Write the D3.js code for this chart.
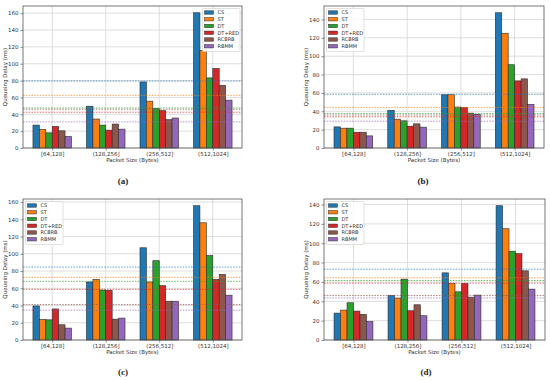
<!DOCTYPE html>
<html>
<head>
<meta charset="utf-8">
<script src="https://cdn.jsdelivr.net/npm/d3@7"></script>
<style>
  body { margin: 0; background: #fff; }
  svg { display: block; font-family: "DejaVu Sans", sans-serif; }
</style>
</head>
<body>
<div id="chart"></div>
<script>
const categories = ["[64,128]", "(128,256]", "(256,512]", "(512,1024]"];
const series = ["CS", "ST", "DT", "DT+RED", "RCBRB", "RBMM"];
const colors = ["#1f77b4", "#ff7f0e", "#2ca02c", "#d62728", "#8c564b", "#9467bd"];

// rows follow series order, columns follow categories
const delayA = [
  [27.2, 49.6, 78.4, 160.5],
  [22.0, 34.4, 55.6, 115.6],
  [18.0, 27.2, 46.8, 83.2],
  [25.6, 21.2, 44.4, 94.4],
  [20.4, 28.4, 33.6, 74.4],
  [13.6, 22.4, 35.6, 56.8]
];
const avgA = [79.5, 62.5, 47.5, 42.5, 46, 31];

const delayB = [
  [23.0, 41.0, 58.0, 147.3],
  [21.6, 31.4, 58.0, 125.0],
  [21.6, 29.6, 44.6, 90.7],
  [17.2, 23.8, 44.2, 73.1],
  [17.2, 26.3, 38.0, 75.3],
  [13.2, 22.7, 36.6, 47.5]
];
const avgB = [58.5, 44.2, 37.5, 34, 36, 29.2];

const delayC = [
  [39.5, 67.3, 107.0, 155.8],
  [24.0, 70.4, 67.3, 136.0],
  [23.4, 58.0, 92.0, 98.0],
  [36.0, 57.7, 63.0, 70.4],
  [17.7, 24.2, 45.0, 76.0],
  [13.8, 25.4, 45.0, 52.0]
];
const avgC = [84.6, 72.7, 68, 58.8, 41.2, 34.6];

const delayD = [
  [27.8, 46.0, 69.4, 138.8],
  [30.9, 43.3, 58.4, 115.0],
  [38.5, 62.9, 49.8, 91.8],
  [29.9, 30.2, 58.4, 89.3],
  [26.5, 36.4, 44.3, 71.5],
  [19.2, 25.1, 46.4, 52.6]
];
const avgD = [73.2, 64.3, 61.5, 58.8, 46, 43.5];

const width = 550, height = 380;
const svg = d3.select("#chart").append("svg")
    .attr("width", width)
    .attr("height", height)
    .attr("viewBox", [0, 0, width, height]);

const barW = 0.12;
const fs = 5.5;

function drawPanel(data, avgs, box, tag, legendRight) {
  const g = svg.append("g");
  const ymax = d3.max(data.flat()) * 1.05;

  // bars span [-3*barW, 3 + 3*barW]; pad 5% each side like matplotlib
  const lo = -3 * barW, hi = 3 + 3 * barW, pad = (hi - lo) * 0.05;
  const x = d3.scaleLinear()
      .domain([lo - pad, hi + pad])
      .range([box.x0, box.x1]);
  const y = d3.scaleLinear()
      .domain([0, ymax])
      .range([box.y1, box.y0]);

  // grid
  const yt = d3.range(0, ymax, 20);
  g.append("g").selectAll("line")
    .data(yt)
    .join("line")
    .attr("x1", box.x0).attr("x2", box.x1)
    .attr("y1", d => y(d)).attr("y2", d => y(d))
    .attr("stroke", "#d6d6d6").attr("stroke-width", 0.8);
  g.append("g").selectAll("line")
    .data(categories)
    .join("line")
    .attr("x1", (d, i) => x(i)).attr("x2", (d, i) => x(i))
    .attr("y1", box.y0).attr("y2", box.y1)
    .attr("stroke", "#d6d6d6").attr("stroke-width", 0.8);

  // bars
  series.forEach((s, si) => {
    g.append("g").selectAll("rect")
      .data(data[si])
      .join("rect")
      .attr("x", (d, i) => x(i + (si - 2.5) * barW - barW / 2))
      .attr("width", x(barW) - x(0))
      .attr("y", d => y(d))
      .attr("height", d => y(0) - y(d))
      .attr("fill", colors[si])
      .attr("stroke", "#2b2b2b")
      .attr("stroke-width", 0.6);
  });

  // dotted reference lines
  g.append("g").selectAll("line")
    .data(avgs)
    .join("line")
    .attr("x1", box.x0).attr("x2", box.x1)
    .attr("y1", d => y(d)).attr("y2", d => y(d))
    .attr("stroke", (d, i) => colors[i])
    .attr("stroke-opacity", 0.75)
    .attr("stroke-width", 0.9)
    .attr("stroke-dasharray", "1.6,1.2");

  // axes
  g.append("g")
    .attr("transform", `translate(${box.x0},0)`)
    .call(d3.axisLeft(y).tickValues(yt).tickSize(2.5).tickPadding(2))
    .call(a => a.select(".domain").remove())
    .call(a => a.selectAll("line").attr("stroke", "#444").attr("stroke-width", 0.6))
    .call(a => a.selectAll("text").attr("font-size", fs).attr("fill", "#333").attr("font-family", "DejaVu Sans"));

  g.append("g")
    .attr("transform", `translate(0,${box.y1})`)
    .call(d3.axisBottom(x).tickValues([0, 1, 2, 3]).tickFormat(i => categories[i]).tickSize(2.5).tickPadding(2))
    .call(a => a.select(".domain").remove())
    .call(a => a.selectAll("line").attr("stroke", "#444").attr("stroke-width", 0.6))
    .call(a => a.selectAll("text").attr("font-size", fs).attr("fill", "#333").attr("font-family", "DejaVu Sans"));

  g.append("rect")
    .attr("x", box.x0).attr("y", box.y0)
    .attr("width", box.x1 - box.x0).attr("height", box.y1 - box.y0)
    .attr("fill", "none")
    .attr("stroke", "#555")
    .attr("stroke-width", 0.8);

  g.append("text")
    .attr("text-anchor", "middle")
    .attr("x", (box.x0 + box.x1) / 2)
    .attr("y", box.y1 + 13.5)
    .attr("font-size", fs)
    .attr("fill", "#333")
    .text("Packet Size (Bytes)");

  g.append("text")
    .attr("text-anchor", "middle")
    .attr("transform", `translate(${box.x0 - 16.5},${(box.y0 + box.y1) / 2}) rotate(-90)`)
    .attr("font-size", fs)
    .attr("fill", "#333")
    .text("Queueing Delay (ms)");

  // legend
  const lw = 37.5, lh = 43;
  const lx = legendRight ? box.x1 - lw - 2 : box.x0 + 2.5;
  const ly = box.y0 + 2.5;
  const leg = g.append("g").attr("transform", `translate(${lx},${ly})`);
  leg.append("rect")
    .attr("width", lw).attr("height", lh)
    .attr("rx", 1)
    .attr("fill", "#fff").attr("fill-opacity", 0.85)
    .attr("stroke", "#ccc").attr("stroke-width", 0.6);
  const item = leg.selectAll("g")
    .data(series)
    .join("g")
    .attr("transform", (d, i) => `translate(2,${4 + i * 6.75})`);
  item.append("rect")
    .attr("width", 9).attr("height", 3.4)
    .attr("y", -1.7)
    .attr("fill", (d, i) => colors[i])
    .attr("stroke", "#2b2b2b").attr("stroke-width", 0.5);
  item.append("text")
    .attr("x", 13)
    .attr("dy", "0.35em")
    .attr("font-size", 5)
    .attr("fill", "#333")
    .text(d => d);

  svg.append("text")
    .attr("x", box.tx)
    .attr("y", box.ty)
    .attr("text-anchor", "middle")
    .attr("font-family", "Liberation Serif, serif")
    .attr("font-weight", "bold")
    .attr("font-size", 9)
    .attr("fill", "#222")
    .text(tag);
}

drawPanel(delayA, avgA, { x0: 23, x1: 242, y0: 6, y1: 148, tx: 123, ty: 184 }, "(a)", true);
drawPanel(delayB, avgB, { x0: 324, x1: 544, y0: 6, y1: 148, tx: 423, ty: 184 }, "(b)", false);
drawPanel(delayC, avgC, { x0: 23, x1: 242, y0: 199, y1: 340, tx: 123, ty: 375 }, "(c)", false);
drawPanel(delayD, avgD, { x0: 324, x1: 545, y0: 199, y1: 340, tx: 426, ty: 375 }, "(d)", false);
</script>
</body>
</html>
